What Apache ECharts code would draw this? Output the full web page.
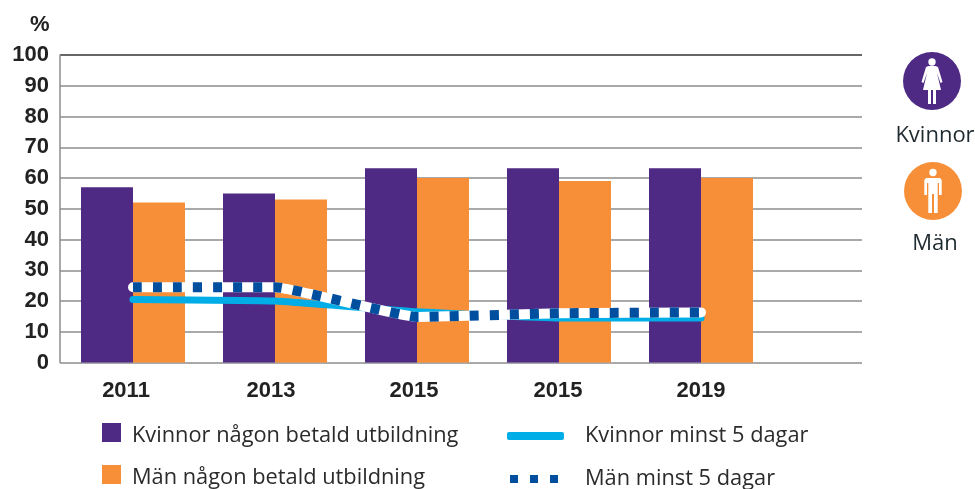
<!DOCTYPE html>
<html><head><meta charset="utf-8">
<style>html,body{margin:0;padding:0;background:#fff}#c{width:975px;height:489px}</style>
<script src="https://cdn.jsdelivr.net/npm/echarts@6/dist/echarts.min.js"></script>
</head><body><div id="c"></div>
<script>
const categories = ['2011','2013','2015','2015','2019'];
const kvinnorNagon = [57,55,63.2,63.2,63.2];
const manNagon = [52,53,60,59,60];
const kvinnorMinst5 = [20.5,20,16.5,14.5,14.5];
const manMinst5 = [24.5,24.5,14.8,16,16.3];

const PURPLE='#4f2a85', ORANGE='#f78f38', CYAN='#00ade6', NAVY='#004f9f', GRID='#8c8c8c', INK='#222222';
const N1='Kvinnor någon betald utbildning', N2='Män någon betald utbildning', N3='Kvinnor minst 5 dagar', N4='Män minst 5 dagar';
const legendText={fontFamily:'"Open Sans"',fontSize:21.8,color:'#2b2b2b'};
const leg=(name,left,top,w,h,gap,icon,padTop)=>({data:[name],left,top,padding:0,itemWidth:w,itemHeight:h,itemGap:0,icon,
  formatter:n=>'{t|'+n+'}',
  textStyle:Object.assign({},legendText,{rich:{t:Object.assign({},legendText,{padding:[padTop||0,0,0,gap-5]})}}),selectedMode:false});
const labelShift=[14,8,6,2,0];

const woman=[[-3.5,-15],[3.5,-15],[6,-14],[10.5,1],[8.5,2],[5,-8],[9,9],[4,9],[4,23],[1,23],[1,9],[-1,9],[-1,23],[-4,23],[-4,9],[-9,9],[-5,-8],[-8.5,2],[-10.5,1],[-6,-14]];
const man=[[-7,-13],[7,-13],[8.7,-11],[8.7,4],[6,4],[6,-8],[4.7,-8],[4.7,22],[1,22],[1,3],[-1,3],[-1,22],[-4.7,22],[-4.7,-8],[-6,-8],[-6,4],[-8.7,4],[-8.7,-11]];
const icon=(cx,cy,fill,pts,hy)=>[
 {type:'circle',shape:{cx,cy,r:29},style:{fill}},
 {type:'circle',shape:{cx,cy:cy+hy,r:3.7},style:{fill:'#fff'}},
 {type:'polygon',shape:{points:pts.map(p=>[cx+p[0],cy+p[1]])},style:{fill:'#fff'}}
];

const chart=echarts.init(document.getElementById('c'));
chart.setOption({
 animation:false,
 textStyle:{fontFamily:'"Liberation Sans"'},
 grid:[
  {left:60,top:55,width:802,height:307.5},
  {left:62,top:55,width:710,height:307.5}
 ],
 xAxis:[
  {gridIndex:0,type:'value',min:0,max:1,show:false},
  {gridIndex:1,type:'category',
   data:categories.map((c,i)=>({value:c,textStyle:{padding:[0,labelShift[i],0,0]}})),
   axisLine:{show:false},axisTick:{show:false},
   axisLabel:{fontFamily:'"Liberation Sans"',fontWeight:'bold',fontSize:22,color:INK,margin:17}}
 ],
 yAxis:[
  {gridIndex:0,type:'value',min:0,max:100,interval:10,position:'left',
   axisLine:{show:true,lineStyle:{color:GRID,width:1.5}},axisTick:{show:false},
   splitLine:{lineStyle:{color:[GRID,GRID,GRID,GRID,GRID,GRID,GRID,GRID,GRID,GRID,'#333333'],width:1.5}},
   axisLabel:{fontFamily:'"Liberation Sans"',fontWeight:'bold',fontSize:22,color:INK,margin:11,padding:[3,0,0,0]}},
  {gridIndex:1,type:'value',min:0,max:100,interval:10,show:false}
 ],
 legend:[
  leg(N1,102,423,19,19,11,'rect',7),
  leg(N2,102,465,19,19,11,'rect',7),
  leg(N3,507,425,57,8,21,'roundRect'),
  leg(N4,510,468,48,8,27,'path://M0 0h8v8h-8z M20 0h8v8h-8z M40 0h8v8h-8z')
 ],
 graphic:[
  {type:'text',left:30,top:14,style:{text:'%',font:'bold 22px "Liberation Sans"',fill:INK}},
  ...icon(932,81,PURPLE,woman,-19),
  ...icon(933,191,ORANGE,man,-18.5),
  {type:'text',x:935,y:125,style:{text:'Kvinnor',align:'center',font:'22px "Open Sans"',fill:'#1f2a30'}},
  {type:'text',x:935,y:233,style:{text:'Män',align:'center',font:'22px "Open Sans"',fill:'#1f2a30'}}
 ],
 series:[
  {name:N1,type:'bar',xAxisIndex:1,yAxisIndex:1,data:kvinnorNagon,barWidth:52,barGap:'0%',itemStyle:{color:PURPLE}},
  {name:N2,type:'bar',xAxisIndex:1,yAxisIndex:1,data:manNagon,barWidth:52,itemStyle:{color:ORANGE}},
  {name:N3,type:'line',xAxisIndex:1,yAxisIndex:1,data:kvinnorMinst5,symbol:'none',smooth:0.1,lineStyle:{color:CYAN,width:7,cap:'round'},itemStyle:{color:CYAN}},
  {name:'halo',type:'line',xAxisIndex:1,yAxisIndex:1,data:manMinst5,symbol:'none',smooth:0.1,lineStyle:{color:'#fff',width:10,cap:'round'},silent:true},
  {name:N4,type:'line',xAxisIndex:1,yAxisIndex:1,data:manMinst5,symbol:'none',smooth:0.1,lineStyle:{color:NAVY,width:10,type:[9,11],cap:'butt'},itemStyle:{color:NAVY}}
 ]
});
</script></body></html>
